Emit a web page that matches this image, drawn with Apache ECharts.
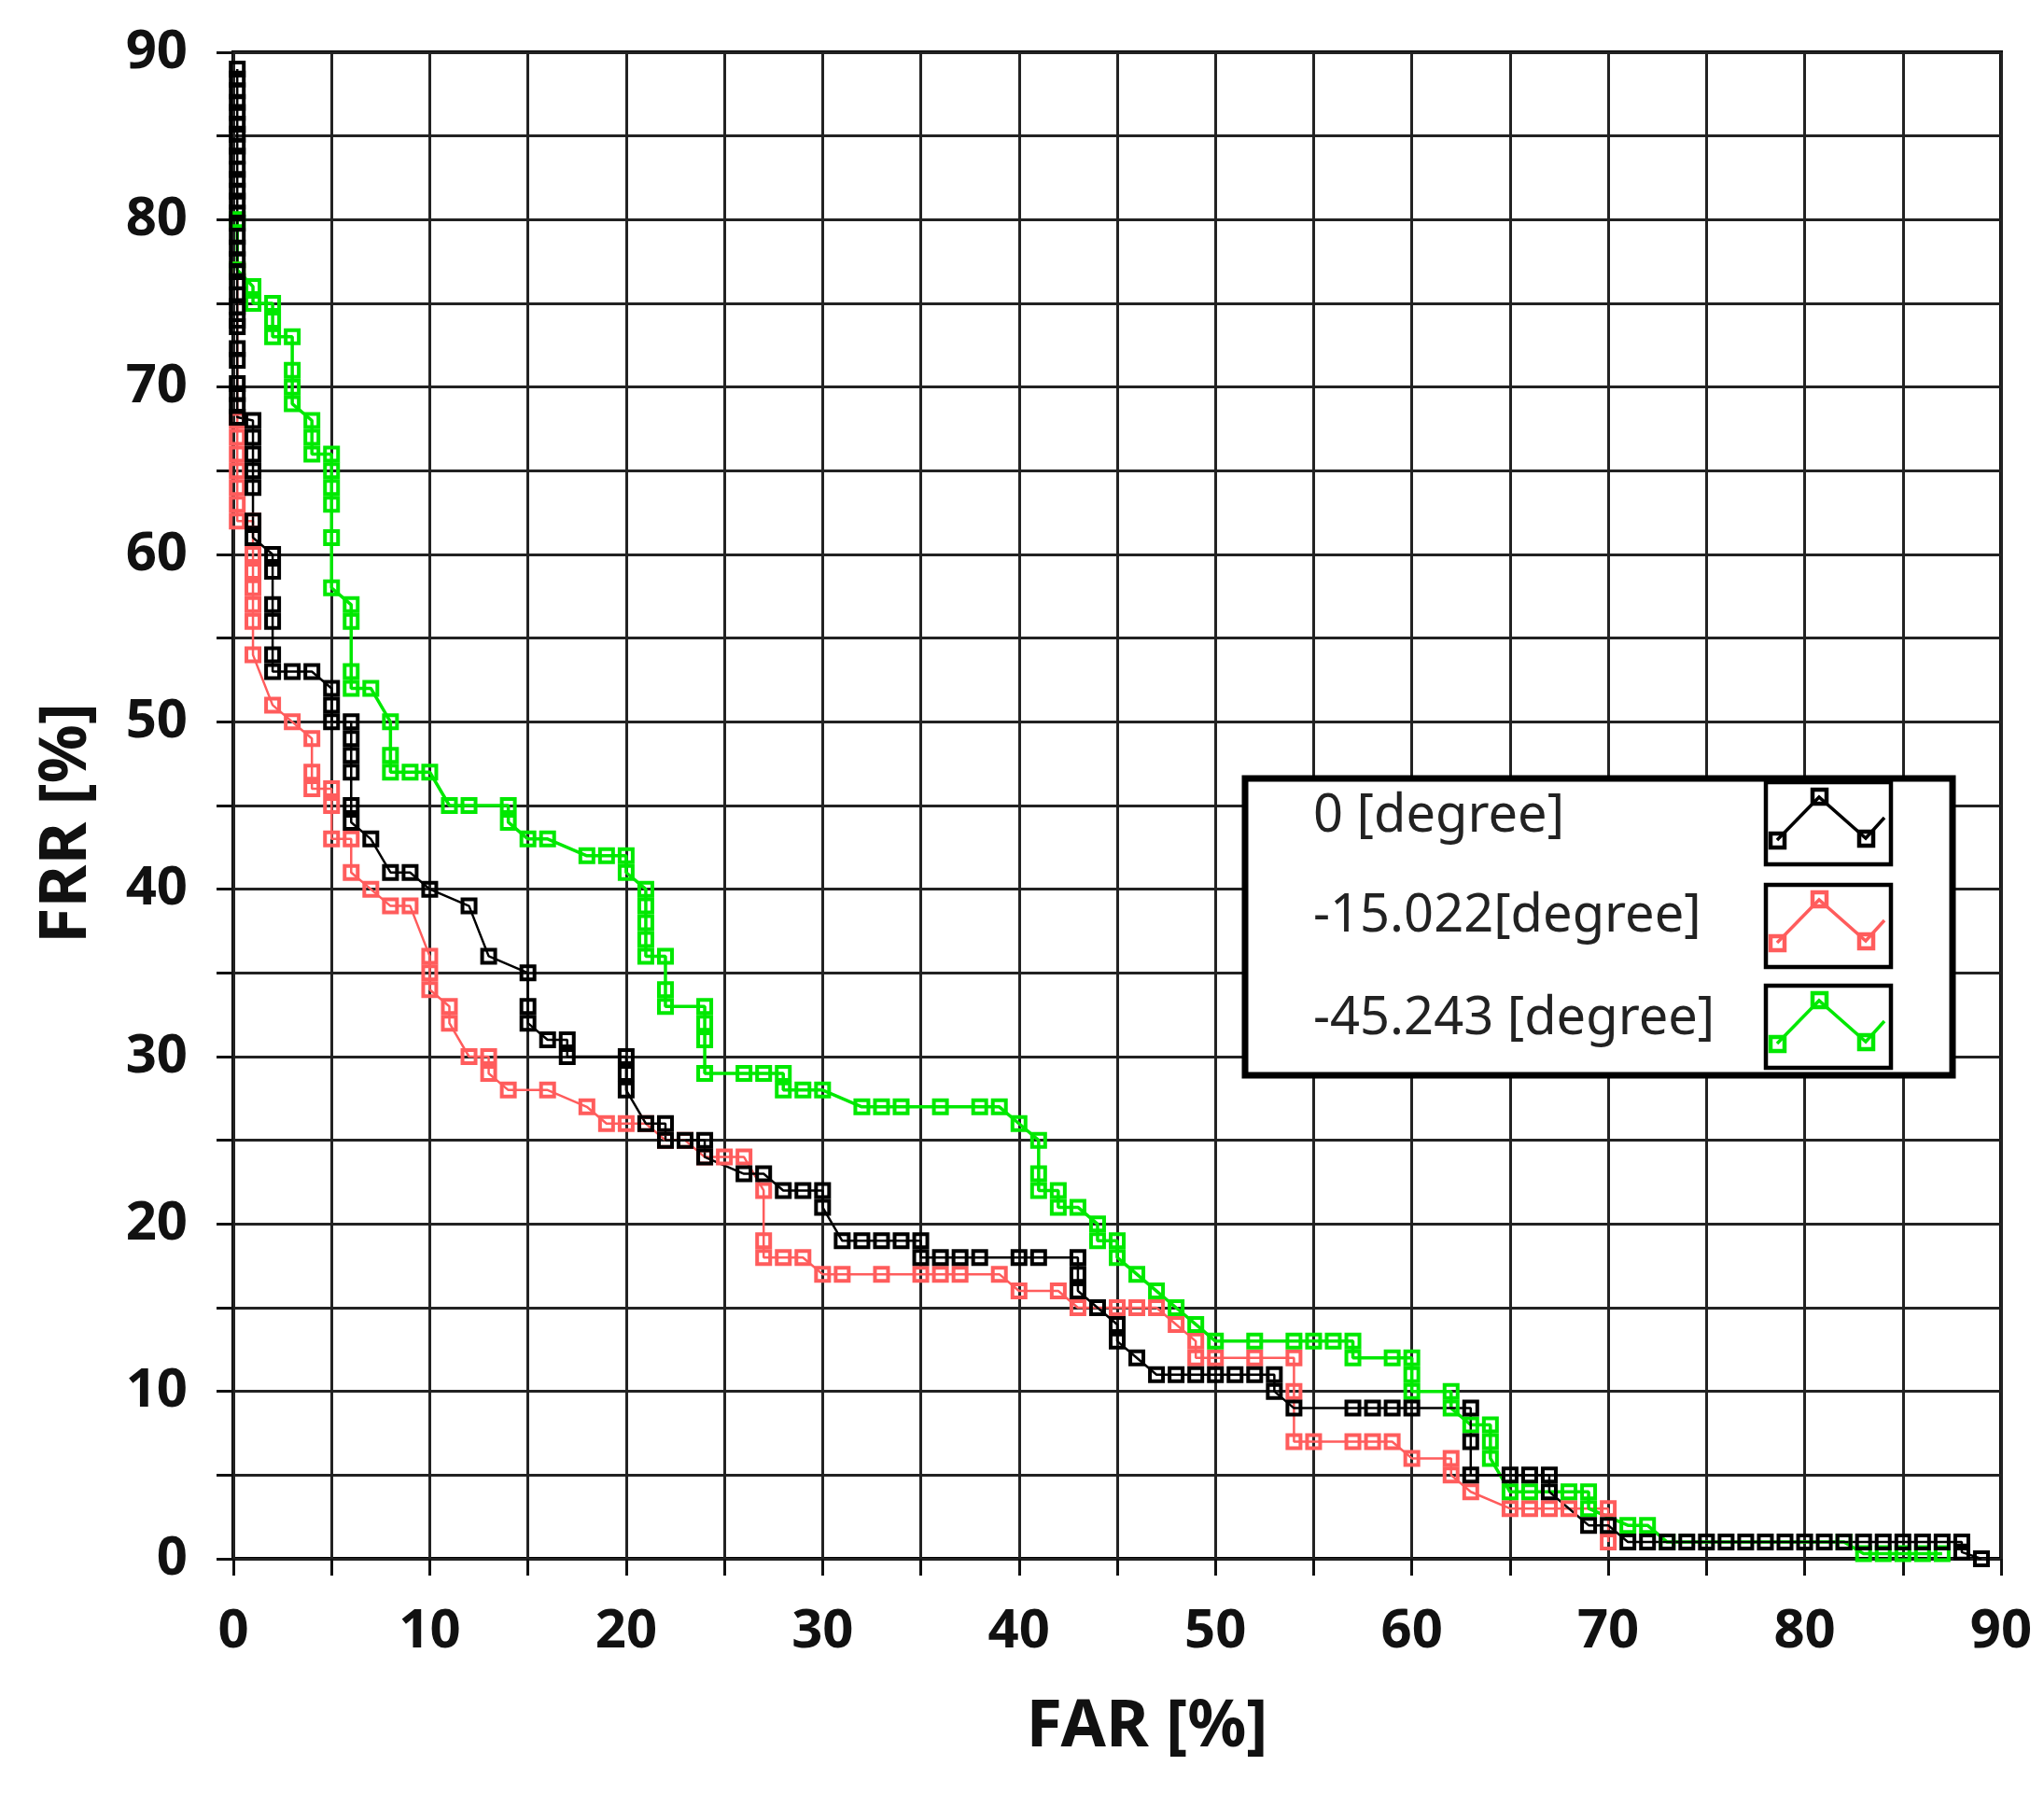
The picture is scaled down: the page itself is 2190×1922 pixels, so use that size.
<!DOCTYPE html>
<html>
<head>
<meta charset="utf-8">
<script src="https://cdn.jsdelivr.net/npm/echarts@6/dist/echarts.min.js"></script>
<style>
  html, body { margin: 0; padding: 0; background: #fff; }
  #chart { width: 2190px; height: 1922px; }
</style>
</head>
<body>
<div id="chart"></div>
<script>
// FAR [%], FRR [%] pairs
const deg0 = [
  [0.2, 89], [0.2, 88.4], [0.2, 87.7], [0.2, 87], [0.2, 86.4], [0.2, 85.7], [0.2, 85.1], [0.2, 84.4],
  [0.2, 83.8], [0.2, 83], [0.2, 82.4], [0.2, 81.7], [0.2, 81.1], [0.2, 80.4], [0.2, 79.8], [0.2, 79],
  [0.2, 78.3], [0.2, 77.6], [0.2, 76.9], [0.2, 76.3], [0.2, 75.5], [0.2, 74.8], [0.2, 74], [0.2, 73.6],
  [0.2, 72.3], [0.2, 71.6], [0.2, 70.2], [0.2, 69.6], [0.2, 68.9], [0.2, 68.2],
  [1, 68], [1, 67], [1, 66], [1, 65], [1, 64], [1, 62], [1, 61],
  [2, 60], [2, 59], [2, 57], [2, 56], [2, 54], [2, 53], [3, 53], [4, 53],
  [5, 52], [5, 51], [5, 50], [6, 50], [6, 49], [6, 48], [6, 47], [6, 45], [6, 44],
  [7, 43], [8, 41], [9, 41], [10, 40], [12, 39], [13, 36], [15, 35], [15, 33], [15, 32],
  [16, 31], [17, 31], [17, 30], [20, 30], [20, 29], [20, 28], [21, 26], [22, 26], [22, 25],
  [23, 25], [24, 25], [24, 24], [26, 23], [27, 23], [28, 22], [29, 22], [30, 22], [30, 21],
  [31, 19], [32, 19], [33, 19], [34, 19], [35, 19], [35, 18], [36, 18], [37, 18], [38, 18],
  [40, 18], [41, 18], [43, 18], [43, 17], [43, 16], [44, 15], [45, 14], [45, 13], [46, 12],
  [47, 11], [48, 11], [49, 11], [50, 11], [51, 11], [52, 11], [53, 11], [53, 10], [54, 9],
  [57, 9], [58, 9], [59, 9], [60, 9], [63, 9], [63, 7], [63, 5], [65, 5], [66, 5], [67, 5],
  [67, 4], [69, 2], [70, 2], [71, 1], [72, 1], [73, 1], [74, 1], [75, 1], [76, 1], [77, 1],
  [78, 1], [79, 1], [80, 1], [81, 1], [82, 1], [83, 1], [84, 1], [85, 1], [86, 1], [87, 1],
  [88, 1], [88, 0.4], [89, 0]
];

const deg15 = [
  [0.2, 77], [0.2, 68], [0.2, 67], [0.2, 66], [0.2, 65], [0.2, 64], [0.2, 63], [0.2, 62],
  [1, 62], [1, 60], [1, 59], [1, 58], [1, 57], [1, 56], [1, 54], [2, 51], [3, 50], [4, 49],
  [4, 47], [4, 46], [5, 46], [5, 45], [5, 43], [6, 43], [6, 41], [7, 40], [8, 39], [9, 39],
  [10, 36], [10, 35], [10, 34], [11, 33], [11, 32], [12, 30], [13, 30], [13, 29], [14, 28],
  [16, 28], [18, 27], [19, 26], [20, 26], [21, 26], [22, 25], [23, 25], [24, 24], [25, 24],
  [26, 24], [27, 22], [27, 19], [27, 18], [28, 18], [29, 18], [30, 17], [31, 17], [33, 17],
  [35, 17], [36, 17], [37, 17], [39, 17], [40, 16], [42, 16], [43, 15], [45, 15], [46, 15],
  [47, 15], [48, 14], [49, 13], [49, 12], [50, 12], [52, 12], [54, 12], [54, 10], [54, 7],
  [55, 7], [57, 7], [58, 7], [59, 7], [60, 6], [62, 6], [62, 5], [63, 4], [65, 3], [66, 3],
  [67, 3], [68, 3], [70, 3], [70, 1]
];

const deg45 = [
  [0.2, 80], [0.2, 77], [1, 76], [1, 75], [2, 75], [2, 74], [2, 73], [3, 73], [3, 71], [3, 70],
  [3, 69], [4, 68], [4, 67], [4, 66], [5, 66], [5, 65], [5, 64], [5, 63], [5, 61], [5, 58],
  [6, 57], [6, 56], [6, 53], [6, 52], [7, 52], [8, 50], [8, 48], [8, 47], [9, 47], [10, 47],
  [11, 45], [12, 45], [14, 45], [14, 44], [15, 43], [16, 43], [18, 42], [19, 42], [20, 42],
  [20, 41], [21, 40], [21, 39], [21, 38], [21, 37], [21, 36], [22, 36], [22, 34], [22, 33],
  [24, 33], [24, 32], [24, 31], [24, 29], [26, 29], [27, 29], [28, 29], [28, 28], [29, 28],
  [30, 28], [32, 27], [33, 27], [34, 27], [36, 27], [38, 27], [39, 27], [40, 26], [41, 25],
  [41, 23], [41, 22], [42, 22], [42, 21], [43, 21], [44, 20], [44, 19], [45, 19], [45, 18],
  [46, 17], [47, 16], [48, 15], [49, 14], [50, 13], [52, 13], [54, 13], [55, 13], [56, 13],
  [57, 13], [57, 12], [59, 12], [60, 12], [60, 11], [60, 10], [62, 10], [62, 9], [63, 8],
  [64, 8], [64, 7], [64, 6], [65, 4], [66, 4], [68, 4], [69, 4], [69, 3], [71, 2], [72, 2],
  [73, 1], [82, 1], [83, 0.3], [84, 0.3], [85, 0.3], [86, 0.3], [87, 0.3]
];

const seriesNames = ['0 [degree]', '-15.022[degree]', '-45.243 [degree]'];
const seriesColors = ['#000000', '#ff5c5c', '#00e800'];

const chart = echarts.init(document.getElementById('chart'));

const font = 'Noto Sans';
const gridColor = '#222';

function makeSeries(name, data, color, width) {
  return {
    name: name,
    type: 'line',
    data: data,
    symbol: 'rect',
    symbolSize: 14,
    showAllSymbol: true,
    lineStyle: { color: color, width: width },
    itemStyle: { color: 'rgba(255,255,255,0)', borderColor: color, borderWidth: 4 }
  };
}

// legend drawn by hand: frame, labels, and framed sample boxes on the right
const LZ = 100;
function sampleBox(top, color) {
  const left = 1892;
  const mk = (x, y) => ({
    type: 'rect', z: LZ + 3,
    shape: { x: left + x, y: top + y, width: 15, height: 15 },
    style: { fill: 'rgba(255,255,255,0)', stroke: color, lineWidth: 4.5 }
  });
  return [
    { type: 'rect', z: LZ + 1, shape: { x: left, y: top, width: 134, height: 88 }, style: { fill: '#fff', stroke: '#000', lineWidth: 4.5 } },
    { type: 'polyline', z: LZ + 2, shape: { points: [[left + 12, top + 62], [left + 57, top + 16], [left + 107, top + 60], [left + 127, top + 38]] }, style: { stroke: color, lineWidth: 3.5, fill: null } },
    mk(5, 55), mk(50, 8), mk(100, 53)
  ];
}

function legendText(text, top) {
  return {
    type: 'text', z: LZ + 1,
    x: 1407, y: top,
    style: { text: text, font: '56px "' + font + '"', fill: '#222' }
  };
}

const option = {
  animation: false,
  backgroundColor: '#fff',
  grid: {
    left: 250,
    right: 46,
    top: 56,
    bottom: 252,
    show: true,
    borderColor: '#000',
    borderWidth: 4
  },
  xAxis: {
    type: 'value',
    min: 0,
    max: 90,
    interval: 5,
    offset: 7,
    name: 'FAR [%]',
    nameLocation: 'middle',
    nameGap: 139,
    nameTextStyle: { fontFamily: font, fontWeight: 'bold', fontSize: 70, color: '#111', lineHeight: 70, padding: [0, 0, 0, 64] },
    axisLine: { show: false },
    axisTick: { show: true, length: 18, lineStyle: { color: '#111', width: 3 } },
    axisLabel: {
      margin: 42,
      fontFamily: font,
      fontWeight: 'bold',
      fontSize: 58,
      color: '#111',
      formatter: v => (v % 10 === 0 ? String(v) : '')
    },
    splitLine: { show: true, lineStyle: { color: gridColor, width: 3 } }
  },
  yAxis: {
    type: 'value',
    min: 0,
    max: 90,
    interval: 5,
    offset: 6,
    name: 'FRR [%]',
    nameLocation: 'middle',
    nameGap: 137,
    nameTextStyle: { fontFamily: font, fontWeight: 'bold', fontSize: 70, color: '#111', lineHeight: 70, padding: [0, 38, 0, 0] },
    axisLine: { show: false },
    axisTick: { show: true, length: 18, lineStyle: { color: '#111', width: 3 } },
    axisLabel: {
      margin: 43,
      fontFamily: font,
      fontWeight: 'bold',
      fontSize: 58,
      color: '#111',
      formatter: v => (v % 10 === 0 ? String(v) : '')
    },
    splitLine: { show: true, lineStyle: { color: gridColor, width: 3 } }
  },
  series: [
    makeSeries(seriesNames[1], deg15, seriesColors[1], 2.5),
    makeSeries(seriesNames[2], deg45, seriesColors[2], 3.5),
    makeSeries(seriesNames[0], deg0, seriesColors[0], 2.5)
  ],
  graphic: [
    {
      type: 'rect', z: LZ,
      shape: { x: 1334, y: 834, width: 758, height: 318 },
      style: { fill: '#fff', stroke: '#000', lineWidth: 7 }
    },
    legendText(seriesNames[0], 847),
    legendText(seriesNames[1], 954),
    legendText(seriesNames[2], 1064)
  ].concat(
    sampleBox(838, seriesColors[0]),
    sampleBox(948, seriesColors[1]),
    sampleBox(1056, seriesColors[2])
  )
};

chart.setOption(option);
</script>
</body>
</html>
